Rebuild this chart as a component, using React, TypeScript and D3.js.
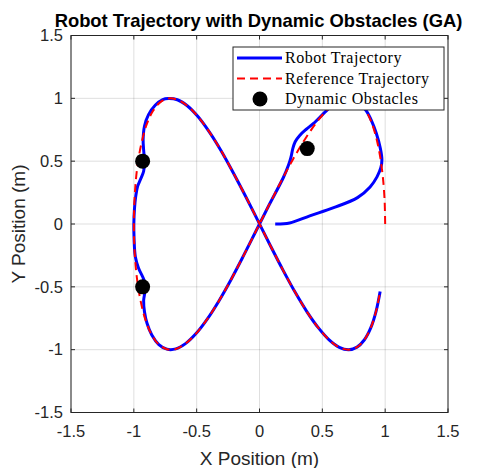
import React, { useEffect, useRef } from "react";
import * as d3 from "d3";

// axis ticks (both axes)
const tickValues = [-1.5, -1, -0.5, 0, 0.5, 1, 1.5];

// reference figure-eight [x, y]
const referencePath: [number, number][] = [
  [1.0, 0.0], [0.995, 0.199], [0.98, 0.389], [0.955, 0.565], [0.921, 0.717],
  [0.878, 0.841], [0.825, 0.932], [0.765, 0.985], [0.697, 1.0], [0.622, 0.974],
  [0.54, 0.909], [0.454, 0.808], [0.362, 0.675], [0.267, 0.516], [0.17, 0.335],
  [0.071, 0.141], [-0.029, -0.058], [-0.129, -0.256], [-0.227, -0.443], [-0.323, -0.612],
  [-0.416, -0.757], [-0.505, -0.872], [-0.589, -0.952], [-0.666, -0.994], [-0.737, -0.996],
  [-0.801, -0.959], [-0.857, -0.883], [-0.904, -0.773], [-0.942, -0.631], [-0.971, -0.465],
  [-0.99, -0.279], [-0.999, -0.083], [-0.998, 0.117], [-0.987, 0.312], [-0.967, 0.494],
  [-0.936, 0.657], [-0.897, 0.794], [-0.848, 0.899], [-0.791, 0.968], [-0.726, 0.999],
  [-0.654, 0.989], [-0.575, 0.941], [-0.49, 0.855], [-0.401, 0.735], [-0.307, 0.585],
  [-0.211, 0.412], [-0.112, 0.223], [-0.012, 0.025], [0.088, -0.175], [0.187, -0.367],
  [0.284, -0.544], [0.378, -0.699], [0.469, -0.827], [0.554, -0.922], [0.635, -0.981],
  [0.709, -1.0], [0.776, -0.98], [0.835, -0.921], [0.886, -0.825], [0.927, -0.697],
  [0.96, -0.537],
];

// robot path [x, y]
const robotPath: [number, number][] = [
  [0.125, 0.0], [0.24, 0.008], [0.4, 0.065], [0.59, 0.13], [0.78, 0.21],
  [0.88, 0.295], [0.935, 0.375], [0.966, 0.45], [0.974, 0.51], [0.962, 0.6],
  [0.93, 0.72], [0.89, 0.825], [0.85, 0.9], [0.8, 0.955], [0.755, 0.988],
  [0.697, 1.0], [0.622, 0.974], [0.54, 0.909], [0.43, 0.8], [0.37, 0.752],
  [0.32, 0.705], [0.284, 0.655], [0.265, 0.6], [0.25, 0.53], [0.231, 0.469],
  [0.19, 0.37], [0.071, 0.141], [-0.029, -0.058], [-0.129, -0.256], [-0.227, -0.443],
  [-0.323, -0.612], [-0.416, -0.757], [-0.505, -0.872], [-0.589, -0.952], [-0.666, -0.994],
  [-0.737, -0.996], [-0.801, -0.959], [-0.857, -0.883], [-0.895, -0.79], [-0.915, -0.7],
  [-0.922, -0.61], [-0.912, -0.54], [-0.912, -0.47], [-0.93, -0.42], [-0.963, -0.35],
  [-0.988, -0.26], [-0.998, -0.12], [-1.0, 0.0], [-0.995, 0.12], [-0.985, 0.22],
  [-0.97, 0.3], [-0.945, 0.36], [-0.922, 0.42], [-0.915, 0.5], [-0.922, 0.59],
  [-0.926, 0.67], [-0.915, 0.78], [-0.883, 0.87], [-0.83, 0.945], [-0.77, 0.99],
  [-0.726, 0.999], [-0.654, 0.989], [-0.575, 0.941], [-0.49, 0.855], [-0.401, 0.735],
  [-0.307, 0.585], [-0.211, 0.412], [-0.112, 0.223], [-0.012, 0.025], [0.088, -0.175],
  [0.187, -0.367], [0.284, -0.544], [0.378, -0.699], [0.469, -0.827], [0.554, -0.922],
  [0.635, -0.981], [0.709, -1.0], [0.776, -0.98], [0.835, -0.921], [0.886, -0.825],
  [0.927, -0.697], [0.96, -0.537],
];

// obstacle centres [x, y]
const obstacles: [number, number][] = [
  [-0.93, 0.5],
  [-0.93, -0.5],
  [0.38, 0.6],
];

const legendLabels = ["Robot Trajectory", "Reference Trajectory", "Dynamic Obstacles"];

const W = 478;
const H = 468;

const App = () => {
  const ref = useRef<SVGSVGElement>(null);

  useEffect(() => {
    const svg = d3.select(ref.current);
    svg.selectAll("*").remove();

    const left = 71, right = 448, top = 35.5, bottom = 412.5;
    const axisColor = "#262626";
    const sans = "'Liberation Sans', Arial, sans-serif";
    const serif = "'Liberation Serif', 'Times New Roman', serif";

    const x = d3.scaleLinear().domain([-1.5, 1.5]).range([left, right]);
    const y = d3.scaleLinear().domain([-1.5, 1.5]).range([bottom, top]);

    svg.append("rect").attr("width", W).attr("height", H).attr("fill", "white");

    // grid
    const grid = svg.append("g").attr("stroke", axisColor).attr("stroke-opacity", 0.15).attr("stroke-width", 1);
    tickValues.forEach((t) => {
      grid.append("line").attr("x1", x(t)).attr("x2", x(t)).attr("y1", top).attr("y2", bottom);
      grid.append("line").attr("x1", left).attr("x2", right).attr("y1", y(t)).attr("y2", y(t));
    });

    const line = d3
      .line<[number, number]>()
      .x((d) => x(d[0]))
      .y((d) => y(d[1]))
      .curve(d3.curveCatmullRom.alpha(0.5));

    const plot = svg.append("g");
    plot
      .append("path")
      .datum(robotPath)
      .attr("d", line)
      .attr("fill", "none")
      .attr("stroke", "#0000ff")
      .attr("stroke-width", 3)
      .attr("stroke-linejoin", "round");

    plot
      .append("path")
      .datum(referencePath)
      .attr("d", line)
      .attr("fill", "none")
      .attr("stroke", "#ff0000")
      .attr("stroke-width", 2)
      .attr("stroke-dasharray", "8,5");

    plot
      .selectAll(".obstacle")
      .data(obstacles)
      .enter()
      .append("circle")
      .attr("class", "obstacle")
      .attr("cx", (d) => x(d[0]))
      .attr("cy", (d) => y(d[1]))
      .attr("r", 7.5)
      .attr("fill", "black");

    // axes box with inward ticks
    const axes = svg.append("g").attr("stroke", axisColor).attr("stroke-width", 1).attr("fill", "none");
    axes.append("rect").attr("x", left).attr("y", top).attr("width", right - left).attr("height", bottom - top);
    const tl = 4;
    tickValues.forEach((t) => {
      axes.append("line").attr("x1", x(t)).attr("x2", x(t)).attr("y1", bottom).attr("y2", bottom - tl);
      axes.append("line").attr("x1", x(t)).attr("x2", x(t)).attr("y1", top).attr("y2", top + tl);
      axes.append("line").attr("x1", left).attr("x2", left + tl).attr("y1", y(t)).attr("y2", y(t));
      axes.append("line").attr("x1", right).attr("x2", right - tl).attr("y1", y(t)).attr("y2", y(t));
    });

    const fmt = (t: number) => String(t);

    svg
      .append("g")
      .selectAll("text")
      .data(tickValues)
      .enter()
      .append("text")
      .attr("x", (d) => x(d))
      .attr("y", bottom + 24)
      .attr("text-anchor", "middle")
      .attr("font-family", sans)
      .attr("font-size", 16.5)
      .attr("fill", axisColor)
      .text(fmt);

    svg
      .append("g")
      .selectAll("text")
      .data(tickValues)
      .enter()
      .append("text")
      .attr("x", left - 8)
      .attr("y", (d) => y(d))
      .attr("dy", "0.35em")
      .attr("text-anchor", "end")
      .attr("font-family", sans)
      .attr("font-size", 16.5)
      .attr("fill", axisColor)
      .text(fmt);

    svg
      .append("text")
      .attr("x", (left + right) / 2)
      .attr("y", 465)
      .attr("text-anchor", "middle")
      .attr("font-family", sans)
      .attr("font-size", 19)
      .attr("fill", axisColor)
      .text("X Position (m)");

    svg
      .append("text")
      .attr("transform", `translate(25,${(top + bottom) / 2}) rotate(-90)`)
      .attr("text-anchor", "middle")
      .attr("font-family", sans)
      .attr("font-size", 19)
      .attr("fill", axisColor)
      .text("Y Position (m)");

    svg
      .append("text")
      .attr("x", 258.5)
      .attr("y", 27)
      .attr("text-anchor", "middle")
      .attr("font-family", sans)
      .attr("font-weight", "bold")
      .attr("font-size", 18.4)
      .attr("fill", "black")
      .text("Robot Trajectory with Dynamic Obstacles (GA)");

    // legend
    const lg = svg.append("g");
    lg.append("rect")
      .attr("x", 233)
      .attr("y", 47)
      .attr("width", 211)
      .attr("height", 63)
      .attr("fill", "white")
      .attr("stroke", axisColor)
      .attr("stroke-width", 1);
    const rowY = [58, 78.5, 99];
    lg.append("line").attr("x1", 237).attr("x2", 282).attr("y1", rowY[0]).attr("y2", rowY[0])
      .attr("stroke", "#0000ff").attr("stroke-width", 3);
    lg.append("line").attr("x1", 237).attr("x2", 282).attr("y1", rowY[1]).attr("y2", rowY[1])
      .attr("stroke", "#ff0000").attr("stroke-width", 2).attr("stroke-dasharray", "8,5");
    lg.append("circle").attr("cx", 260).attr("cy", rowY[2]).attr("r", 7.5).attr("fill", "black");
    legendLabels.forEach((label, i) => {
      lg.append("text")
        .attr("x", 285)
        .attr("y", rowY[i])
        .attr("dy", "0.33em")
        .attr("font-family", serif)
        .attr("font-size", 16)
        .attr("letter-spacing", 0.5)
        .attr("fill", "black")
        .text(label);
    });
  }, []);

  return (
    <svg
      ref={ref}
      width={W}
      height={H}
      style={{ position: "fixed", left: 0, top: 0, display: "block" }}
    />
  );
};

export default App;
